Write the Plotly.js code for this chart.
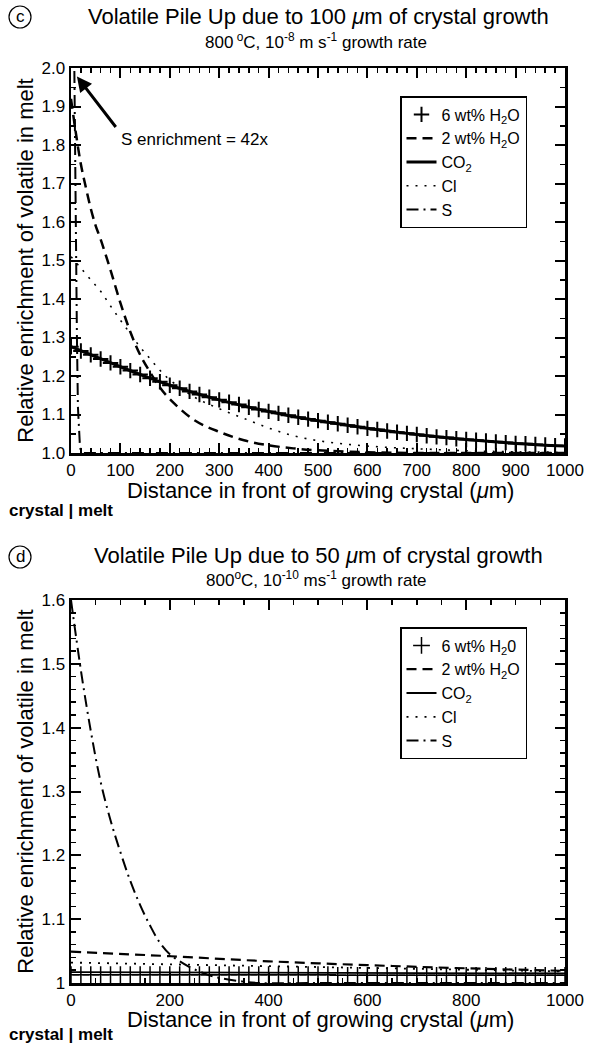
<!DOCTYPE html>
<html>
<head>
<meta charset="utf-8">
<script src="https://cdn.plot.ly/plotly-3.0.1.min.js"></script>
<style>
  html, body { margin: 0; padding: 0; background: #fff; }
  #panelC { position: absolute; left: 0; top: 0; width: 589px; height: 520px; }
  #panelD { position: absolute; left: 0; top: 520px; width: 589px; height: 524px; }
</style>
</head>
<body>
<div id="panelC"></div>
<div id="panelD"></div>
<script>
// ---------- Panel (c): 100 µm of growth, 800 °C, 1e-8 m/s ----------
const distC20 = [0,20,40,60,80,100,120,140,160,180,200,220,240,260,280,300,320,340,360,380,400,
  420,440,460,480,500,520,540,560,580,600,620,640,660,680,700,720,740,760,780,800,
  820,840,860,880,900,920,940,960,980,1000];
const h2o6C = [1.276,1.265,1.255,1.244,1.234,1.224,1.214,1.204,1.194,1.185,1.176,1.168,1.160,1.152,1.145,
  1.138,1.132,1.126,1.119,1.113,1.108,1.103,1.098,1.093,1.088,1.084,1.080,1.076,1.072,1.068,1.064,
  1.061,1.057,1.054,1.051,1.048,1.045,1.042,1.040,1.037,1.035,1.033,1.031,1.029,1.027,1.025,1.024,
  1.022,1.021,1.019,1.018];

const distC50 = [0,50,100,150,200,250,300,350,400,450,500,550,600,650,700,750,800,850,900,950,1000];
const co2C = [1.276,1.250,1.224,1.199,1.176,1.156,1.138,1.122,1.108,1.095,1.084,1.074,1.064,1.056,
  1.048,1.041,1.035,1.030,1.025,1.021,1.018];

const distH2o2C = [0,10,20,30,40,50,60,80,100,120,140,160,180,200,250,300,350,400,450,500,600,700,800,1000];
const h2o2C = [1.92,1.83,1.75,1.69,1.635,1.59,1.555,1.475,1.39,1.315,1.255,1.21,1.17,1.14,1.085,1.055,
  1.033,1.02,1.012,1.007,1.002,1.0,1.0,1.0];

const distClC = [0,20,40,60,80,100,120,140,160,180,200,250,300,350,400,450,500,550,600,650,700,800,900,1000];
const clC = [1.51,1.48,1.45,1.42,1.382,1.345,1.31,1.275,1.245,1.215,1.19,1.145,1.115,1.09,1.065,1.045,
  1.032,1.024,1.018,1.014,1.011,1.006,1.003,1.002];

const distSC = [0,2,4,6,8,10,12,14,16,18,20,25,30,50,100,200,400,600,800,1000];
const sC = [42,12,4.5,2.1,1.75,1.5,1.3,1.12,1.05,1.02,1.005,1.0,1.0,1.0,1.0,1.0,1.0,1.0,1.0,1.0];

// ---------- Panel (d): 50 µm of growth, 800 °C, 1e-10 m/s ----------
const distD20 = distC20;
const h2o6D = [1.013,1.013,1.013,1.013,1.013,1.013,1.013,1.013,1.013,1.013,1.013,1.013,1.013,1.013,1.013,
  1.013,1.013,1.013,1.013,1.013,1.013,1.013,1.013,1.013,1.013,1.013,1.013,1.012,1.012,1.012,1.012,
  1.012,1.012,1.012,1.012,1.012,1.012,1.012,1.012,1.012,1.012,1.012,1.012,1.012,1.012,1.012,1.012,
  1.012,1.012,1.012,1.012];

const distD = [0,200,400,600,800,1000];
const h2o2D = [1.049,1.042,1.034,1.028,1.023,1.019];
const clD = [1.032,1.029,1.026,1.023,1.020,1.018];
const co2D = [1.017,1.0166,1.0162,1.0158,1.0154,1.015];

const distSD = [0,20,40,60,80,100,120,140,160,180,200,220,240,260,280,300,340,380,500,700,1000];
const sD = [1.6,1.49,1.395,1.315,1.255,1.205,1.16,1.122,1.09,1.063,1.045,1.034,1.025,1.018,1.012,1.008,
  1.003,1.0,1.0,1.0,1.0];

// ---------- shared styling ----------
const W = 589;
const FONT = 'Liberation Sans, Arial, sans-serif';
const black = '#000';
const DOT = '2px,7px';
const DASH = '10px,6px';
const DASHDOT = '12px,5px,2px,5px';
const xTitle = 'Distance in front of growing crystal (<i>μ</i>m)';
const yTitle = 'Relative enrichment of volatile in melt';
const titleFont = { family: FONT, size: 22, color: black };

function axisBase(extra) {
  return Object.assign({
    showgrid: false, zeroline: false,
    showline: true, linecolor: black, linewidth: 2.5, mirror: 'ticks',
    ticks: 'inside', ticklen: 10, tickwidth: 2, tickcolor: black,
    tickfont: { family: FONT, size: 17, color: black },
    fixedrange: true
  }, extra);
}

function legendBox(yTop) {
  return {
    x: 400 / W, y: yTop, xanchor: 'left', yanchor: 'top', xref: 'paper', yref: 'paper',
    bgcolor: '#fff', bordercolor: black, borderwidth: 1.5,
    font: { family: FONT, size: 16, color: black }, tracegroupgap: 0
  };
}

// One panel per div; fy converts a pixel row inside the div to paper y.
function panelLayout(h, o) {
  const fx = v => v / W;
  const fy = v => 1 - v / h;
  const note = (x, y, text, size, anchor, bold) => ({
    xref: 'paper', yref: 'paper', x: fx(x), y: fy(y), text: bold ? '<b>' + text + '</b>' : text,
    showarrow: false, font: { family: FONT, size: size, color: black },
    xanchor: anchor || 'center', yanchor: 'middle'
  });
  const ann = [
    note(20, o.circleY, o.letter, 17),
    note(318, o.titleY, o.title, 22),
    note(316, o.subY, o.sub, 17),
    note(320, o.xTitleY, xTitle, 22),
    note(7, o.footY, 'crystal | melt', 17, 'left', true)
  ].concat(o.extraAnn || []);
  return {
    width: W, height: h,
    margin: { l: 0, r: 0, t: 0, b: 0 },
    paper_bgcolor: '#fff', plot_bgcolor: '#fff',
    font: { family: FONT, color: black },
    showlegend: true,
    xaxis: axisBase({ domain: [fx(71), fx(565)], range: [0, 1000], dtick: o.xMajor, tick0: 0,
      minor: { ticks: 'inside', dtick: o.xMinor, ticklen: 5, tickwidth: 1.5, tickcolor: black } }),
    yaxis: axisBase(Object.assign({ domain: [fy(o.plotBottom), fy(o.plotTop)], range: o.yRange, dtick: 0.1, tick0: 1,
      tickformat: '.1f',
      minor: { ticks: 'inside', dtick: o.yMinor, ticklen: 5, tickwidth: 1.5, tickcolor: black },
      title: { text: yTitle, font: titleFont, standoff: 2 } }, o.yExtra || {})),
    legend: legendBox(fy(o.legendTop)),
    shapes: [
      { type: 'circle', xref: 'paper', yref: 'paper', x0: fx(9), x1: fx(31),
        y0: fy(o.circleY + 11), y1: fy(o.circleY - 11), line: { color: black, width: 1.2 } }
    ],
    annotations: ann
  };
}

// ---------- panel (c) ----------
const tracesC = [
  { x: distC20, y: h2o6C, name: '6 wt% H<sub>2</sub>O', mode: 'markers',
    marker: { symbol: 'cross-thin', size: 11, color: black, line: { color: black, width: 2 } } },
  { x: distH2o2C, y: h2o2C, name: '2 wt% H<sub>2</sub>O', mode: 'lines',
    line: { color: black, width: 2.5, dash: DASH, shape: 'spline' } },
  { x: distC50, y: co2C, name: 'CO<sub>2</sub>', mode: 'lines',
    line: { color: black, width: 3, shape: 'spline' } },
  { x: distClC, y: clC, name: 'Cl', mode: 'lines',
    line: { color: black, width: 1.6, dash: DOT, shape: 'spline' } },
  { x: distSC, y: sC, name: 'S', mode: 'lines',
    line: { color: black, width: 2, dash: DASHDOT } }
];

const layoutC = panelLayout(520, {
  letter: 'c', circleY: 17, titleY: 16, subY: 41, xTitleY: 490, footY: 510,
  title: 'Volatile Pile Up due to 100 <i>μ</i>m of crystal growth',
  sub: '800<sup> o</sup>C, 10<sup>-8</sup> m s<sup>-1</sup> growth rate',
  plotTop: 68, plotBottom: 453, yRange: [1, 2], yMinor: 0.05, xMajor: 100, xMinor: 20,
  legendTop: 96,
  extraAnn: [
    { xref: 'x', yref: 'y', x: 12, y: 1.978, text: '', showarrow: true, ax: 40, ay: 52,
      arrowhead: 2, arrowsize: 1, arrowwidth: 3, arrowcolor: black },
    { xref: 'paper', yref: 'paper', x: 119 / W, y: 1 - 140 / 520, text: 'S enrichment = 42x', showarrow: false,
      font: { family: FONT, size: 17, color: black }, xanchor: 'left', yanchor: 'middle' }
  ]
});

// ---------- panel (d) ----------
const tracesD = [
  { x: distD20, y: h2o6D, name: '6 wt% H<sub>2</sub>0', mode: 'markers',
    marker: { symbol: 'cross-thin', size: 12, color: black, line: { color: black, width: 1.5 } } },
  { x: distD, y: h2o2D, name: '2 wt% H<sub>2</sub>O', mode: 'lines',
    line: { color: black, width: 2.2, dash: DASH, shape: 'spline' } },
  { x: distD, y: co2D, name: 'CO<sub>2</sub>', mode: 'lines',
    line: { color: black, width: 1.8 } },
  { x: distD, y: clD, name: 'Cl', mode: 'lines',
    line: { color: black, width: 1.8, dash: DOT } },
  { x: distSD, y: sD, name: 'S', mode: 'lines',
    line: { color: black, width: 2, dash: DASHDOT, shape: 'spline' } }
];

const layoutD = panelLayout(524, {
  letter: 'd', circleY: 37, titleY: 35, subY: 59, xTitleY: 499, footY: 514,
  title: 'Volatile Pile Up due to 50 <i>μ</i>m of crystal growth',
  sub: '800<sup>o</sup>C, 10<sup>-10</sup> ms<sup>-1</sup> growth rate',
  plotTop: 80, plotBottom: 463, yRange: [1, 1.6], yMinor: 0.02, xMajor: 200, xMinor: 50,
  legendTop: 107,
  yExtra: { labelalias: { '1.0': '1' } }
});

const cfg = { staticPlot: true, displayModeBar: false };
Plotly.newPlot('panelC', tracesC, layoutC, cfg);
Plotly.newPlot('panelD', tracesD, layoutD, cfg);
</script>
</body>
</html>
